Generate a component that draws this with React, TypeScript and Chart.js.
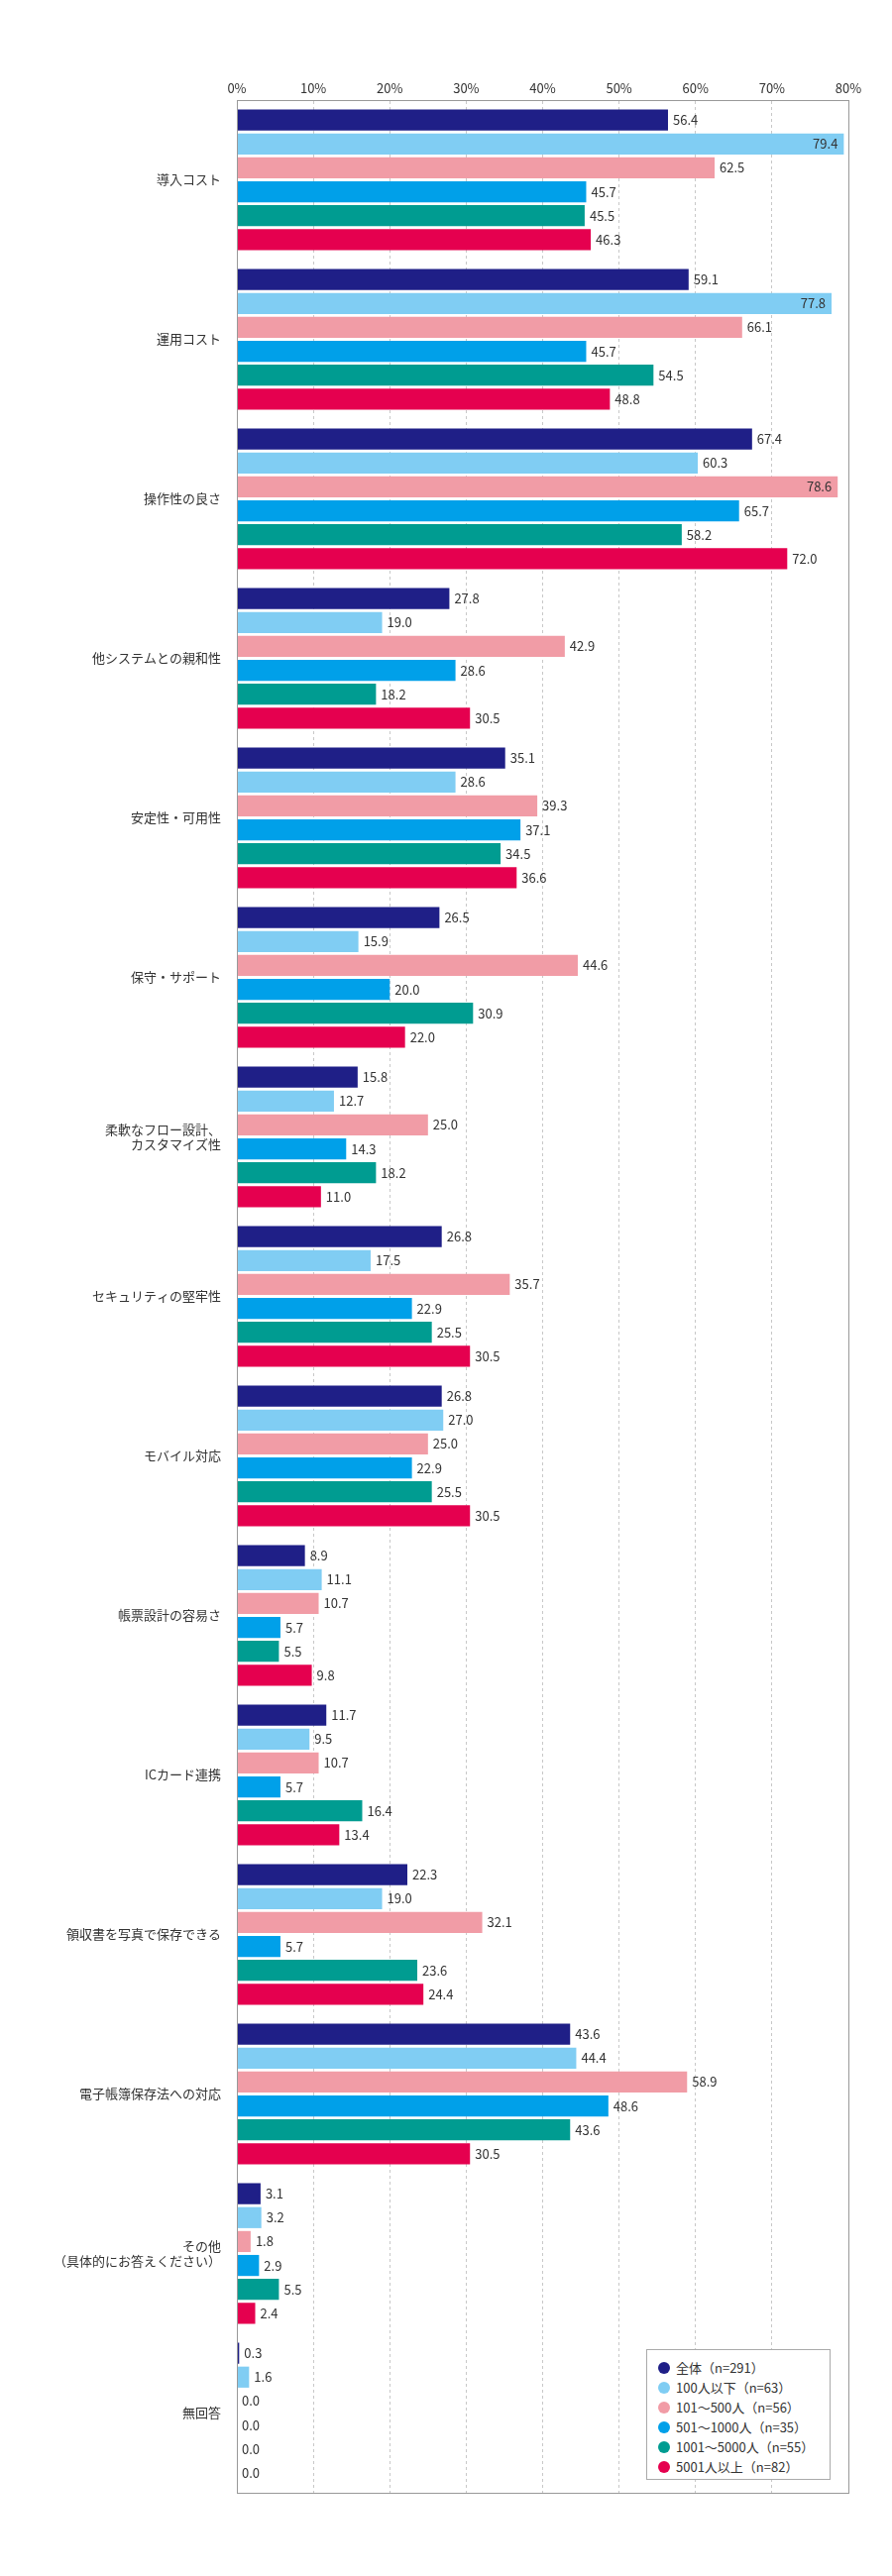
import { useEffect, useRef } from "react"
import { Chart, registerables } from "chart.js"

Chart.register(...registerables)

const categories = [
  "導入コスト",
  "運用コスト",
  "操作性の良さ",
  "他システムとの親和性",
  "安定性・可用性",
  "保守・サポート",
  ["柔軟なフロー設計、", "カスタマイズ性"],
  "セキュリティの堅牢性",
  "モバイル対応",
  "帳票設計の容易さ",
  "ICカード連携",
  "領収書を写真で保存できる",
  "電子帳簿保存法への対応",
  ["その他", "（具体的にお答えください）"],
  "無回答",
]

const seriesNames = [
  "全体（n=291）",
  "100人以下（n=63）",
  "101～500人（n=56）",
  "501～1000人（n=35）",
  "1001～5000人（n=55）",
  "5001人以上（n=82）",
]

const colors = ["#1f1f87", "#80cdf3", "#f19ca6", "#00a0e9", "#009c91", "#e5004f"]

const total = [56.4, 59.1, 67.4, 27.8, 35.1, 26.5, 15.8, 26.8, 26.8, 8.9, 11.7, 22.3, 43.6, 3.1, 0.3]
const under100 = [79.4, 77.8, 60.3, 19.0, 28.6, 15.9, 12.7, 17.5, 27.0, 11.1, 9.5, 19.0, 44.4, 3.2, 1.6]
const s101to500 = [62.5, 66.1, 78.6, 42.9, 39.3, 44.6, 25.0, 35.7, 25.0, 10.7, 10.7, 32.1, 58.9, 1.8, 0.0]
const s501to1000 = [45.7, 45.7, 65.7, 28.6, 37.1, 20.0, 14.3, 22.9, 22.9, 5.7, 5.7, 5.7, 48.6, 2.9, 0.0]
const s1001to5000 = [45.5, 54.5, 58.2, 18.2, 34.5, 30.9, 18.2, 25.5, 25.5, 5.5, 16.4, 23.6, 43.6, 5.5, 0.0]
const over5001 = [46.3, 48.8, 72.0, 30.5, 36.6, 22.0, 11.0, 30.5, 30.5, 9.8, 13.4, 24.4, 30.5, 2.4, 0.0]

const allSeries = [total, under100, s101to500, s501to1000, s1001to5000, over5001]

const xTicks = [0, 10, 20, 30, 40, 50, 60, 70, 80]

const FONT = "'Noto Sans CJK JP', 'Noto Sans', sans-serif"

const valueLabels = {
  id: "valueLabels",
  afterDatasetsDraw(chart: Chart) {
    const ctx = chart.ctx
    ctx.save()
    ctx.font = `13px ${FONT}`
    ctx.fillStyle = "#333"
    ctx.textBaseline = "middle"
    chart.data.datasets.forEach((ds, i) => {
      chart.getDatasetMeta(i).data.forEach((bar: any, j) => {
        const v = ds.data[j] as number
        const txt = v.toFixed(1)
        if (v > 75) {
          ctx.textAlign = "right"
          ctx.fillText(txt, bar.x - 6, bar.y)
        } else {
          ctx.textAlign = "left"
          ctx.fillText(txt, bar.x + 5, bar.y)
        }
      })
    })
    ctx.restore()
  },
}

export default function App() {
  const ref = useRef<HTMLCanvasElement>(null)

  useEffect(() => {
    if (!ref.current) return
    const chart = new Chart(ref.current, {
      type: "bar",
      data: {
        labels: categories,
        datasets: allSeries.map((d, i) => ({
          label: seriesNames[i],
          data: d,
          backgroundColor: colors[i],
          categoryPercentage: 0.9,
          barPercentage: 0.88,
        })),
      },
      options: {
        indexAxis: "y",
        animation: false,
        responsive: false,
        layout: { padding: { top: 76, right: 44, bottom: 84, left: 0 } },
        plugins: { legend: { display: false }, tooltip: { enabled: false } },
        scales: {
          x: {
            position: "top",
            min: 0,
            max: 80,
            afterBuildTicks: (s: any) => {
              s.ticks = xTicks.map((v) => ({ value: v }))
            },
            afterFit: (s: any) => {
              s.height = 25
            },
            ticks: {
              color: "#333",
              font: { family: FONT, size: 13 },
              padding: 4,
              callback: (v: any) => v + "%",
            },
            grid: { color: "#c8c8c8", drawTicks: false, tickLength: 0 },
            border: { display: true, color: "#999", dash: [3, 3] },
          },
          y: {
            afterFit: (s: any) => {
              s.width = 239
            },
            ticks: {
              color: "#333",
              font: { family: FONT, size: 13 },
              padding: 8,
            },
            grid: { display: false },
            border: { color: "#999" },
          },
        },
      },
      plugins: [
        valueLabels,
        {
          id: "frame",
          afterDraw(c: Chart) {
            const { left, right, top, bottom } = c.chartArea
            const ctx = c.ctx
            ctx.save()
            ctx.strokeStyle = "#999"
            ctx.lineWidth = 1
            ctx.strokeRect(left + 0.5, top + 0.5, right - left, bottom - top)
            ctx.restore()
          },
        },
      ],
    })
    // dashed grid lines
    ;(chart.options.scales as any).x.grid.borderDash = [3, 3]
    return () => chart.destroy()
  }, [])

  return (
    <div style={{ position: "absolute", left: 0, top: 0, width: 900, height: 2600, background: "#fff" }}>
      <canvas ref={ref} width={900} height={2600} style={{ width: 900, height: 2600 }} />
      <div
        style={{
          position: "absolute",
          left: 652,
          top: 2371,
          width: 186,
          height: 132,
          border: "1px solid #aaa",
          background: "#fff",
          fontFamily: FONT,
          fontSize: 13,
          color: "#333",
          padding: "8px 0 0 11px",
          boxSizing: "border-box",
          lineHeight: "20px",
        }}
      >
        {seriesNames.map((n, i) => (
          <div key={n} style={{ display: "flex", alignItems: "center" }}>
            <span
              style={{
                display: "inline-block",
                width: 12,
                height: 12,
                borderRadius: 6,
                background: colors[i],
                marginRight: 6,
              }}
            />
            {n}
          </div>
        ))}
      </div>
    </div>
  )
}
